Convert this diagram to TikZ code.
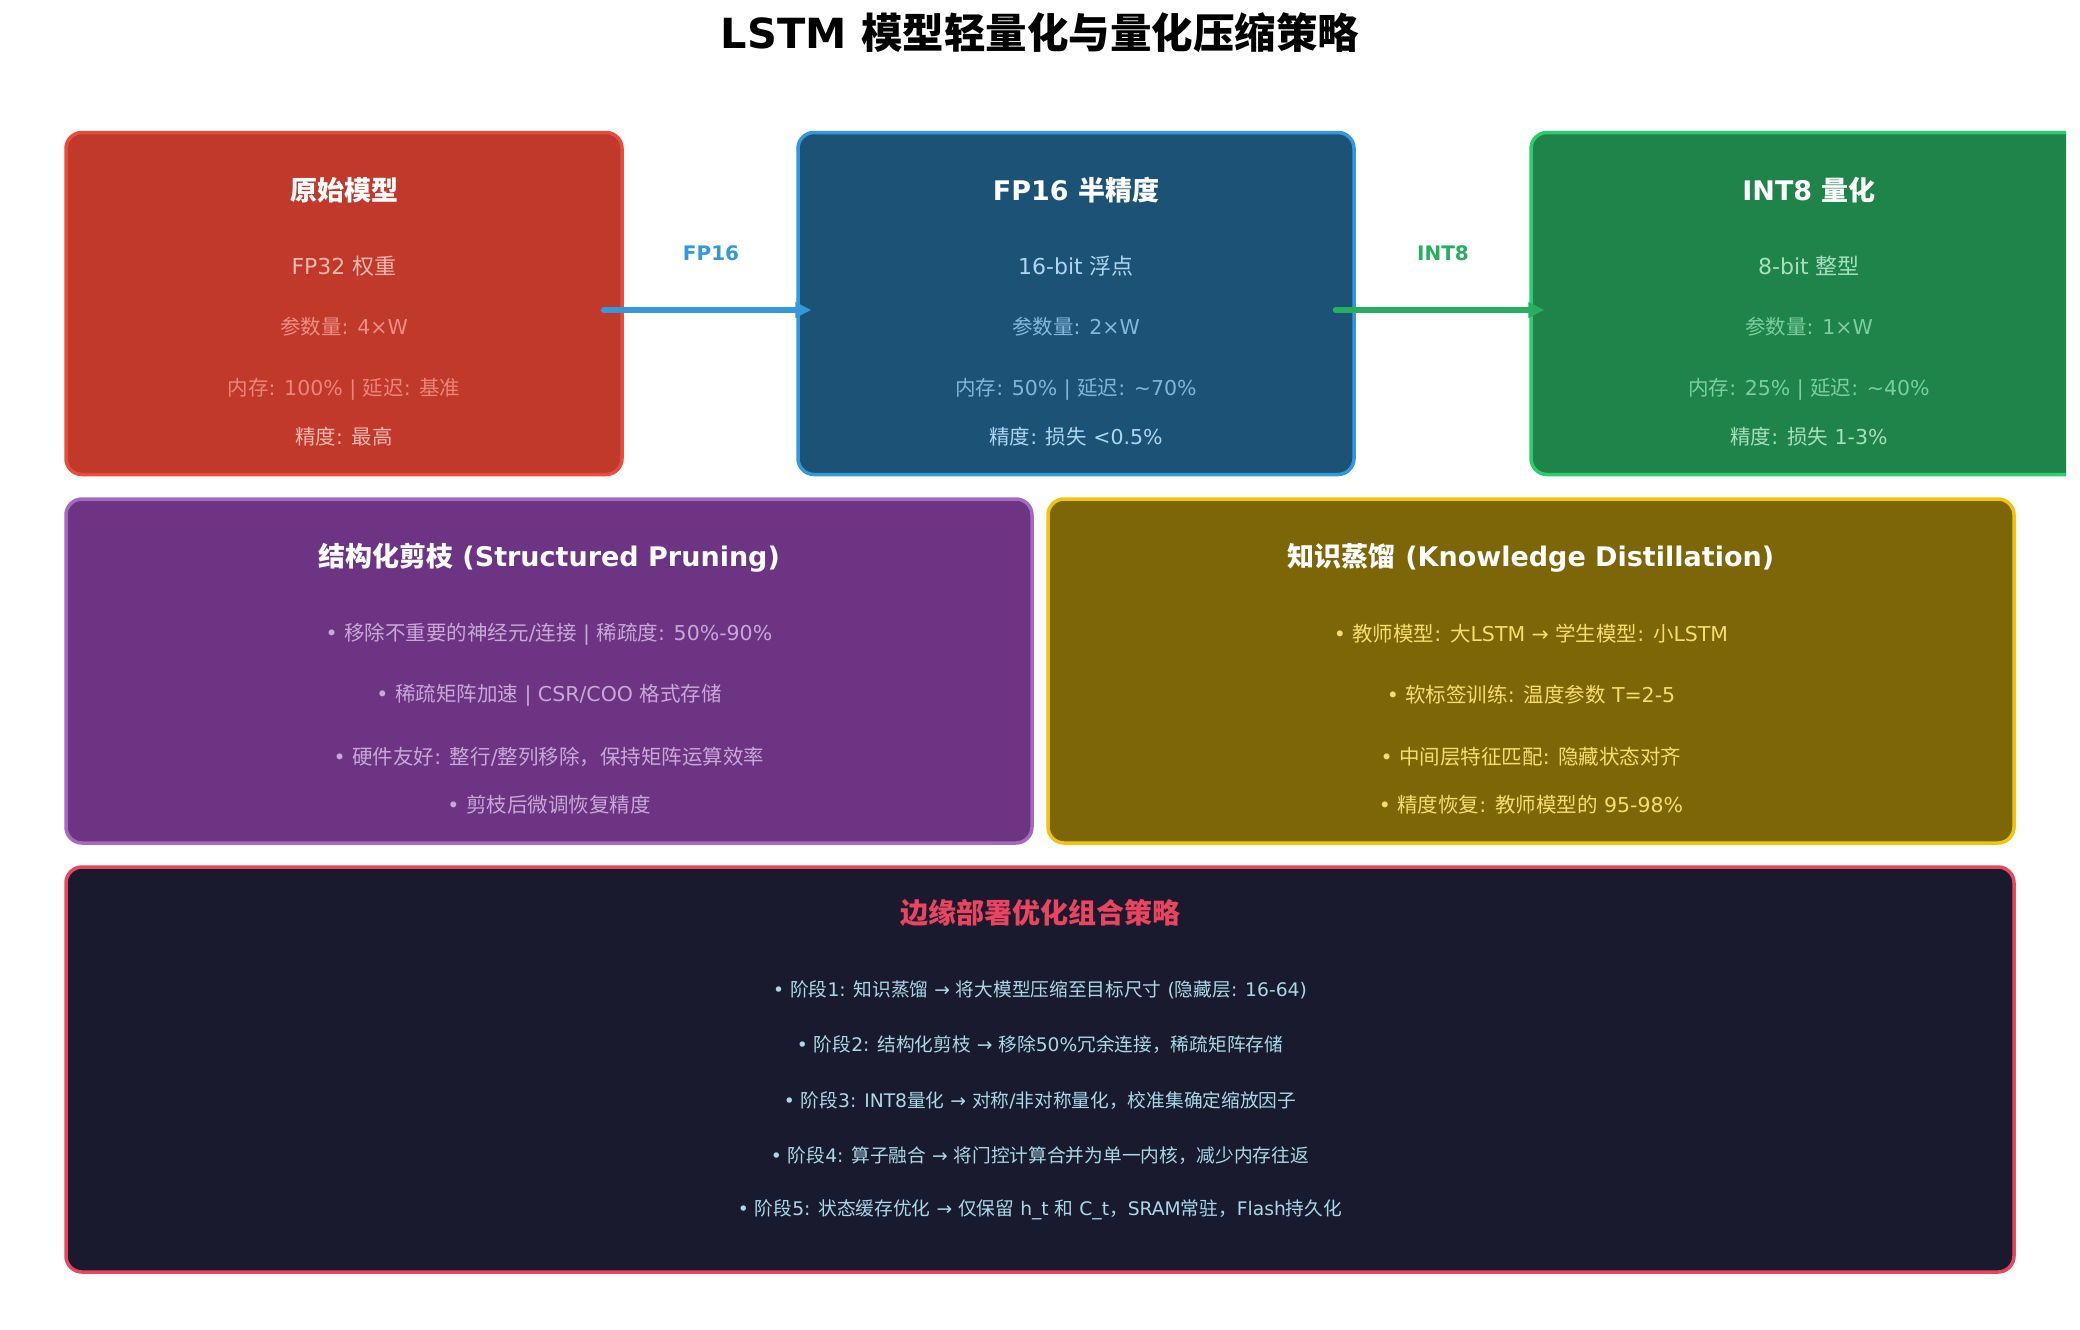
\documentclass[tikz,border=0pt]{standalone}
\usepackage{fontspec}
\setmainfont{DejaVu Sans}
\newfontfamily\cjk{Noto Sans CJK SC}
\usetikzlibrary{arrows.meta}
\XeTeXinterchartokenstate=1
\chardef\cjkcls=7
\newcount\cjkc
\def\setcjkrange#1#2{\cjkc=#1 \loop \XeTeXcharclass\cjkc=\cjkcls \ifnum\cjkc<#2 \advance\cjkc by 1 \repeat}
\setcjkrange{"3000}{"303F}
\setcjkrange{"4E00}{"9FFF}
\setcjkrange{"FF00}{"FFEF}
\XeTeXinterchartoks 0 \cjkcls = {\cjk}
\XeTeXinterchartoks 4095 \cjkcls = {\cjk}
\XeTeXinterchartoks \cjkcls 0 = {\rmfamily}
\XeTeXinterchartoks \cjkcls 4095 = {\rmfamily}

\definecolor{cRed}{HTML}{C0392B}
\definecolor{cRedB}{HTML}{E74C3C}
\definecolor{cBlue}{HTML}{1B5276}
\definecolor{cBlueB}{HTML}{3498DB}
\definecolor{cGreen}{HTML}{1E8449}
\definecolor{cGreenB}{HTML}{2ECC71}
\definecolor{cGreenA}{HTML}{27AE60}
\definecolor{cPurple}{HTML}{6C3483}
\definecolor{cPurpleB}{HTML}{A569BD}
\definecolor{cYellow}{HTML}{7D6608}
\definecolor{cYellowB}{HTML}{F1C40F}
\definecolor{cDark}{HTML}{1A1A2E}
\definecolor{cDarkB}{HTML}{E94560}
\definecolor{rA}{HTML}{F5B7B1}
\definecolor{rB}{HTML}{EE8F86}
\definecolor{rC}{HTML}{EC857B}
\definecolor{bA}{HTML}{AED6F1}
\definecolor{bB}{HTML}{85B8DC}
\definecolor{bC}{HTML}{82B6D9}
\definecolor{gA}{HTML}{A9DFBF}
\definecolor{gB}{HTML}{7DCEA0}
\definecolor{gC}{HTML}{7DCEA0}
\definecolor{pT}{HTML}{C8A8D6}
\definecolor{yT}{HTML}{F7DC6F}
\definecolor{dT}{HTML}{A8D8EA}

\tikzset{
  panel/.style={rounded corners=16pt, line width=3.5pt, inner sep=0pt},
  ttl/.style={text=white, font=\bfseries\fontsize{27}{31}\selectfont, inner sep=0pt},
  sub/.style={font=\fontsize{22}{26}\selectfont, inner sep=0pt},
  det/.style={font=\fontsize{20.5}{24}\selectfont, inner sep=0pt},
  bul/.style={font=\fontsize{18.7}{23}\selectfont, inner sep=0pt},
  arr/.style={line width=6pt, line cap=round, -{Triangle[length=16pt,width=15pt]}},
  lbl/.style={font=\bfseries\fontsize{20}{24}\selectfont, inner sep=0pt},
}

\begin{document}
\begin{tikzpicture}[x=1pt,y=-1pt]
\fill[white] (0,0) rectangle (2080,1330);
\useasboundingbox (0,0) rectangle (2080,1330);

\node[font=\bfseries\fontsize{41.5}{46}\selectfont, inner sep=0pt] (title) at (1040,33) {LSTM 模型轻量化与量化压缩策略};

% top boxes
\node[panel, fill=cRed, draw=cRedB, minimum width=556pt, minimum height=342pt] (b1) at (344,303.5) {};
\node[panel, fill=cBlue, draw=cBlueB, minimum width=556pt, minimum height=342pt] (b2) at (1076,303.5) {};
\begin{scope}
\clip (0,0) rectangle (2066,1330);
\node[panel, fill=cGreen, draw=cGreenB, minimum width=556pt, minimum height=342pt] (b3) at (1809,303.5) {};
\end{scope}

\node[ttl] (b1t) at (344,190) {原始模型};
\node[sub, text=rA] (b1a) at (344,266) {FP32 权重};
\node[det, text=rB] (b1b) at (344,327) {参数量: 4×W};
\node[det, text=rC] (b1c) at (344,389) {内存: 100\% | 延迟: 基准};
\node[det, text=rA] (b1d) at (344,437) {精度: 最高};

\node[ttl] (b2t) at (1076,190) {FP16 半精度};
\node[sub, text=bA] (b2a) at (1076,266) {16-bit 浮点};
\node[det, text=bB] (b2b) at (1076,327) {参数量: 2×W};
\node[det, text=bC] (b2c) at (1076,389) {内存: 50\% | 延迟: \textasciitilde70\%};
\node[det, text=bA] (b2d) at (1076,437) {精度: 损失 <0.5\%};

\node[ttl] (b3t) at (1809,190) {INT8 量化};
\node[sub, text=gA] (b3a) at (1809,266) {8-bit 整型};
\node[det, text=gB] (b3b) at (1809,327) {参数量: 1×W};
\node[det, text=gC] (b3c) at (1809,389) {内存: 25\% | 延迟: \textasciitilde40\%};
\node[det, text=gA] (b3d) at (1809,437) {精度: 损失 1-3\%};

% middle boxes
\node[panel, fill=cPurple, draw=cPurpleB, minimum width=966pt, minimum height=344pt] (m1) at (549,671) {};
\node[panel, fill=cYellow, draw=cYellowB, minimum width=966pt, minimum height=344pt] (m2) at (1531,671) {};

\node[ttl] (m1t) at (549,558) {结构化剪枝 (Structured Pruning)};
\node[det, text=pT] (m1a) at (549,634) {• 移除不重要的神经元/连接 | 稀疏度: 50\%-90\%};
\node[det, text=pT] (m1b) at (549,695) {• 稀疏矩阵加速 | CSR/COO 格式存储};
\node[det, text=pT] (m1c) at (549,757) {• 硬件友好: 整行/整列移除，保持矩阵运算效率};
\node[det, text=pT] (m1d) at (549,805) {• 剪枝后微调恢复精度};

\node[ttl] (m2t) at (1531,558) {知识蒸馏 (Knowledge Distillation)};
\node[det, text=yT] (m2a) at (1531,634) {• 教师模型: 大LSTM → 学生模型: 小LSTM};
\node[det, text=yT] (m2b) at (1531,695) {• 软标签训练: 温度参数 T=2-5};
\node[det, text=yT] (m2c) at (1531,757) {• 中间层特征匹配: 隐藏状态对齐};
\node[det, text=yT] (m2d) at (1531,805) {• 精度恢复: 教师模型的 95-98\%};

% bottom box
\node[panel, fill=cDark, draw=cDarkB, minimum width=1948pt, minimum height=405pt] (bt) at (1040,1069.5) {};
\node[text=cDarkB, font=\bfseries\fontsize{28}{32}\selectfont, inner sep=0pt] (btt) at (1040,913) {边缘部署优化组合策略};
\node[bul, text=dT] (bt1) at (1040,990) {• 阶段1: 知识蒸馏 → 将大模型压缩至目标尺寸 (隐藏层: 16-64)};
\node[bul, text=dT] (bt2) at (1040,1045) {• 阶段2: 结构化剪枝 → 移除50\%冗余连接，稀疏矩阵存储};
\node[bul, text=dT] (bt3) at (1040,1101) {• 阶段3: INT8量化 → 对称/非对称量化，校准集确定缩放因子};
\node[bul, text=dT] (bt4) at (1040,1156) {• 阶段4: 算子融合 → 将门控计算合并为单一内核，减少内存往返};
\node[bul, text=dT] (bt5) at (1040,1210) {• 阶段5: 状态缓存优化 → 仅保留 h\_t 和 C\_t，SRAM常驻，Flash持久化};

% arrows
\draw[arr, color=cBlueB] ([shift={(-20,6.5)}]b1.east) -- ([shift={(15,6.5)}]b2.west);
\draw[arr, color=cGreenA] ([shift={(-20,6.5)}]b2.east) -- ([shift={(15,6.5)}]b3.west);
\node[lbl, text=cBlueB] (l1) at (711,253) {FP16};
\node[lbl, text=cGreenA] (l2) at (1443,253) {INT8};
\end{tikzpicture}
\end{document}
